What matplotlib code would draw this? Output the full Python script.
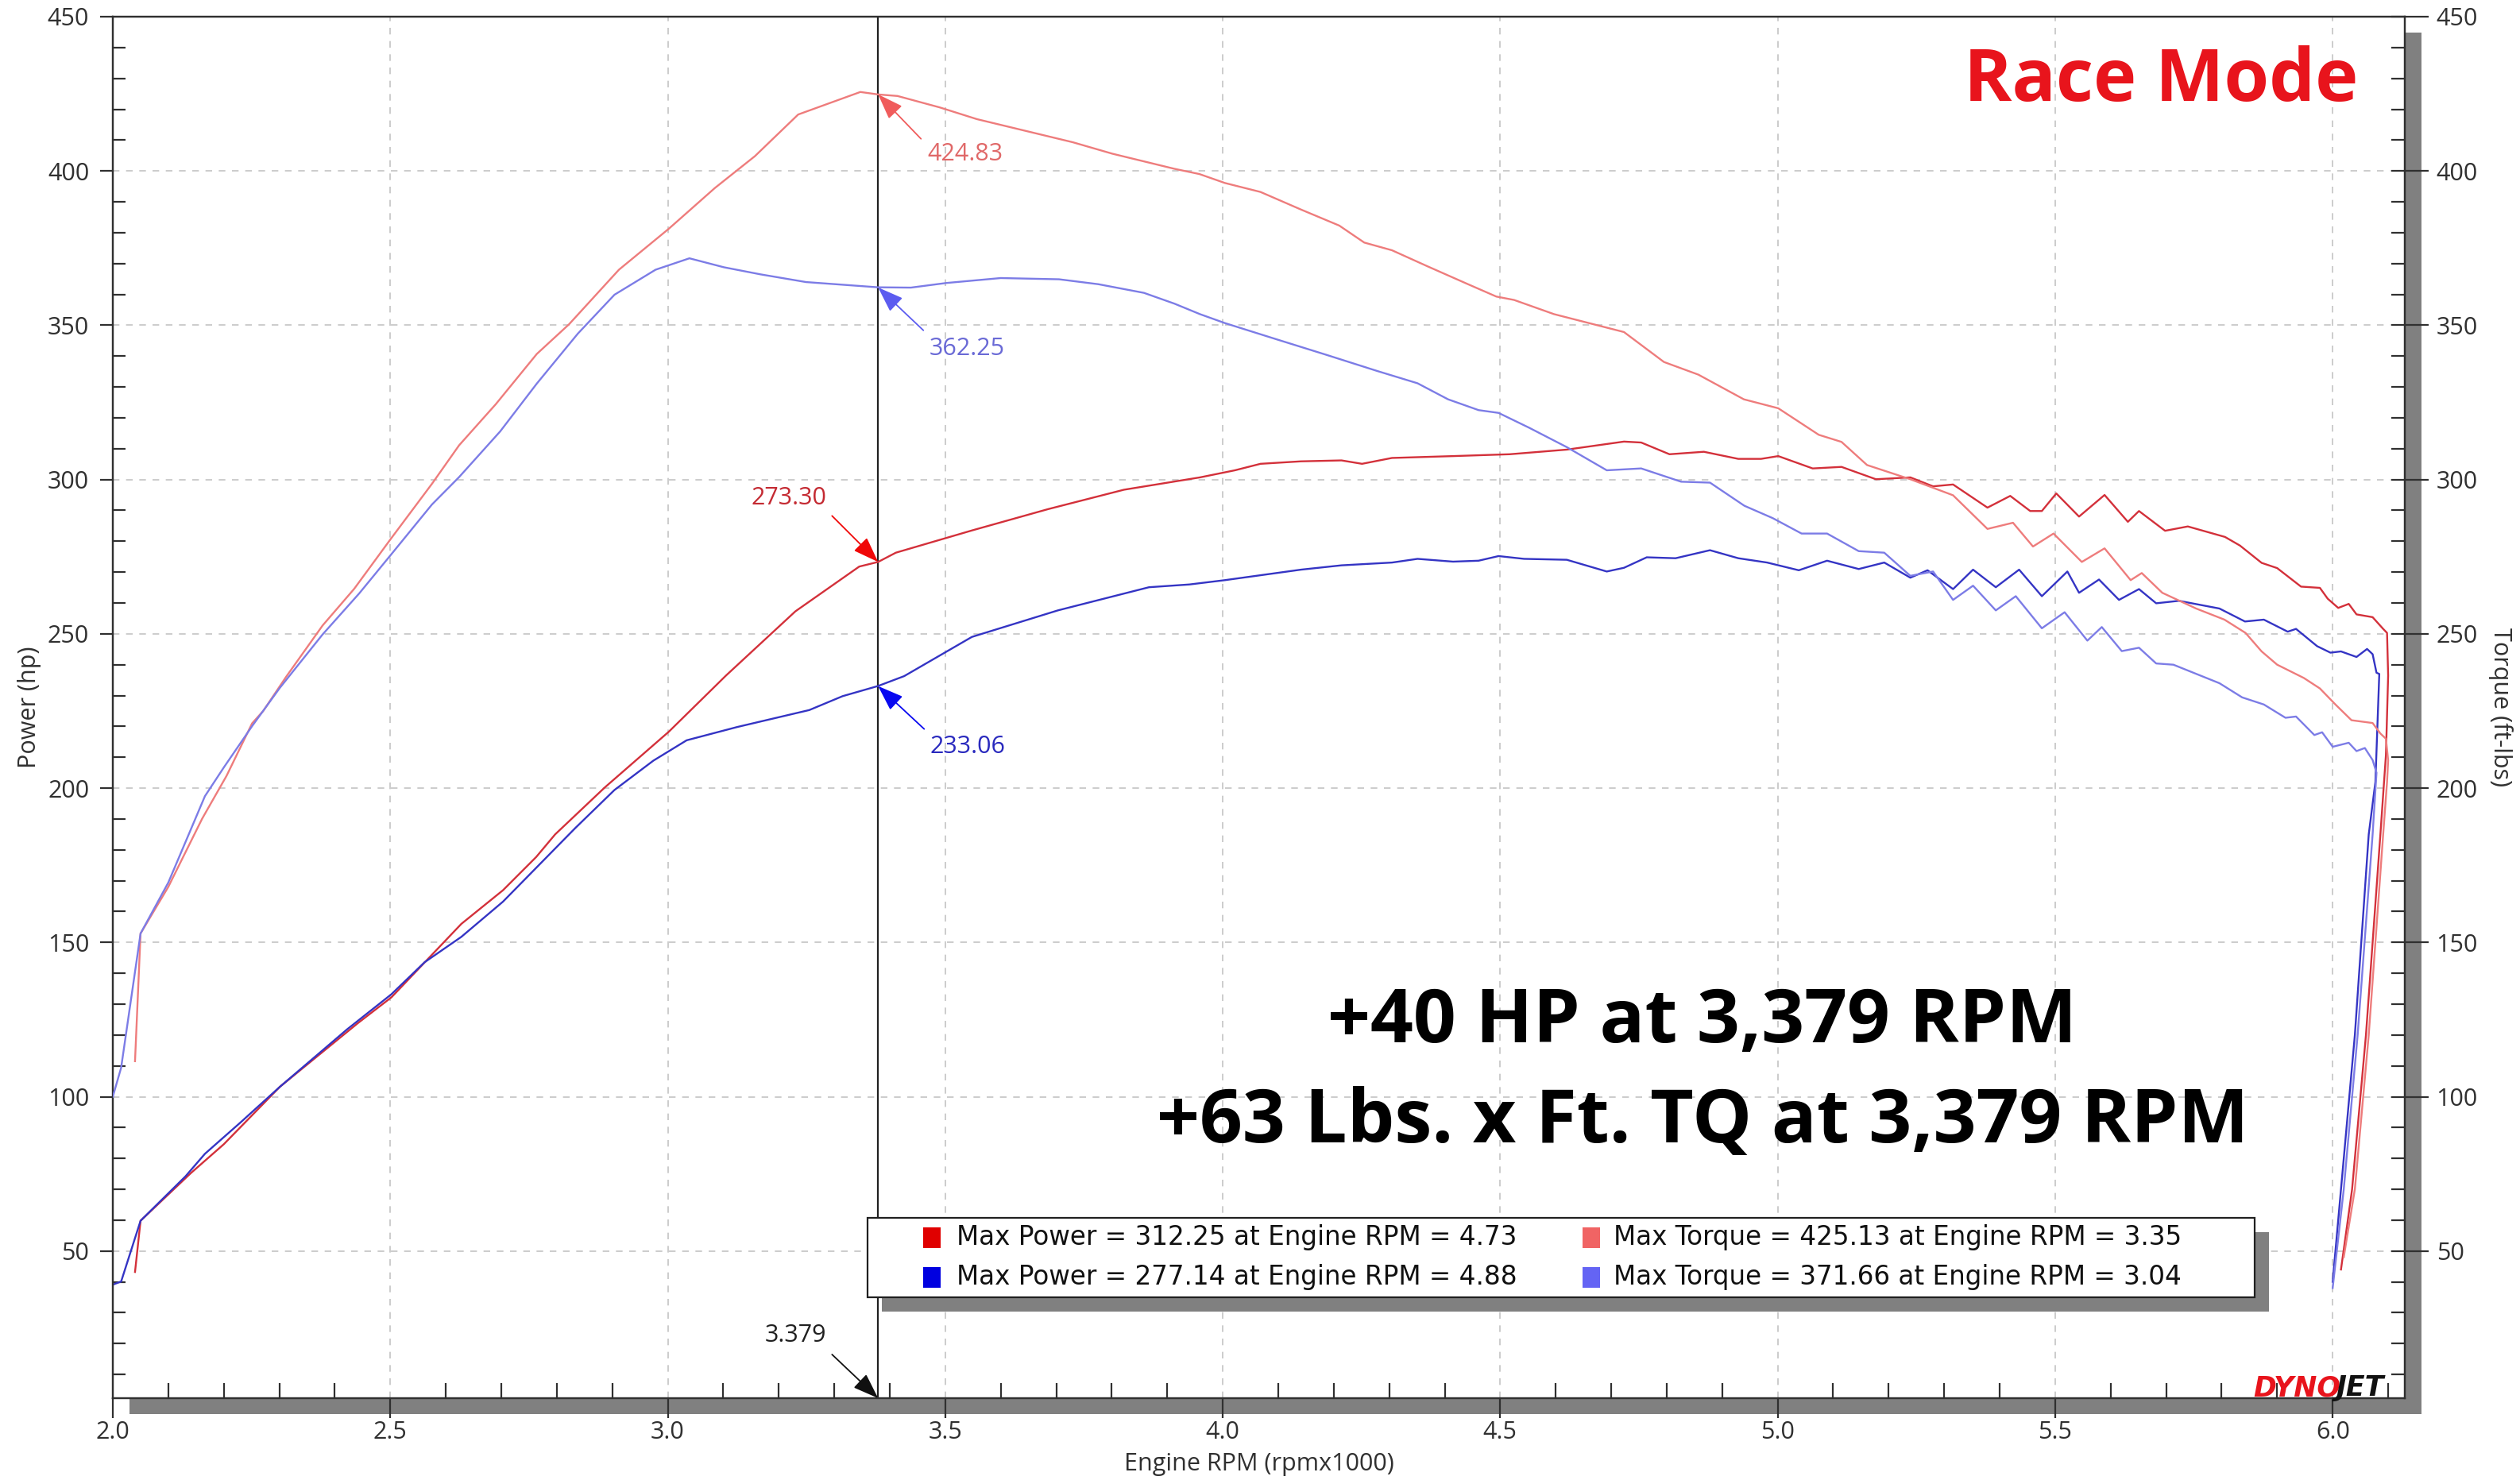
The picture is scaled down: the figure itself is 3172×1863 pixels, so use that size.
import matplotlib
matplotlib.use('Agg')
import matplotlib.pyplot as plt
from matplotlib.patches import Rectangle
from matplotlib.ticker import MultipleLocator, FormatStrFormatter
import numpy as np

plt.rcParams['font.family'] = ['Open Sans', 'DejaVu Sans']

# ---------------- data (read from the dyno sheet) ----------------
tuned_power_pts = [
    (2.040, 43.2), (2.050, 59.8), (2.141, 75.3), (2.200, 84.6), (2.301, 103.2),
    (2.442, 123.9), (2.502, 132.2), (2.628, 156.0), (2.703, 166.9), (2.763, 177.7),
    (2.797, 185.0), (2.887, 200.3), (3.002, 218.3), (3.105, 236.5), (3.230, 257.3),
    (3.345, 271.8), (3.379, 273.3), (3.411, 276.3), (3.548, 283.5), (3.685, 290.4),
    (3.822, 296.7), (3.959, 300.7), (4.022, 303.0), (4.068, 305.1), (4.141, 305.9),
    (4.214, 306.2), (4.251, 305.1), (4.305, 307.0), (4.415, 307.6), (4.517, 308.2),
    (4.620, 309.7), (4.723, 312.3), (4.754, 312.0), (4.805, 308.2), (4.867, 309.0),
    (4.929, 306.7), (4.970, 306.7), (5.001, 307.6), (5.063, 303.6), (5.115, 304.1),
    (5.177, 300.1), (5.239, 300.7), (5.280, 297.8), (5.316, 298.4), (5.378, 290.9),
    (5.419, 294.7), (5.455, 289.8), (5.476, 289.8), (5.502, 295.5), (5.543, 288.0),
    (5.589, 295.0), (5.631, 286.3), (5.651, 289.8), (5.698, 283.4), (5.739, 284.8),
    (5.806, 281.4), (5.833, 278.6), (5.872, 273.0), (5.900, 271.3), (5.943, 265.3),
    (5.977, 264.9), (5.991, 261.4), (6.010, 258.4), (6.029, 259.7), (6.043, 256.3),
    (6.072, 255.4), (6.091, 251.6), (6.098, 250.3), (6.100, 236.5), (6.096, 210.8),
    (6.086, 185.0), (6.060, 120.0), (6.035, 70.0), (6.015, 44.0),
]
tuned_torque_pts = [
    (2.040, 111.5), (2.050, 152.9), (2.100, 168.0), (2.161, 190.1), (2.205, 204.0),
    (2.251, 221.0), (2.271, 225.0), (2.312, 236.0), (2.378, 252.7), (2.435, 264.6),
    (2.501, 280.8), (2.575, 298.6), (2.624, 311.1), (2.690, 324.4), (2.764, 340.7),
    (2.822, 350.3), (2.912, 368.0), (3.002, 381.3), (3.085, 394.5), (3.157, 404.8),
    (3.235, 418.3), (3.347, 425.6), (3.379, 424.8), (3.414, 424.3), (3.490, 420.6),
    (3.557, 416.8), (3.730, 409.3), (3.801, 405.6), (3.913, 400.7), (3.958, 399.0),
    (4.004, 396.1), (4.068, 393.2), (4.141, 387.5), (4.210, 382.3), (4.255, 376.8),
    (4.305, 374.3), (4.369, 369.1), (4.442, 363.3), (4.493, 359.3), (4.525, 358.2),
    (4.597, 353.6), (4.660, 350.7), (4.723, 347.8), (4.795, 338.1), (4.857, 334.0),
    (4.939, 326.0), (5.001, 323.1), (5.074, 314.5), (5.115, 312.2), (5.161, 304.7),
    (5.239, 300.1), (5.316, 294.9), (5.378, 284.0), (5.424, 286.0), (5.460, 278.3),
    (5.497, 282.5), (5.548, 273.3), (5.589, 277.7), (5.636, 267.4), (5.656, 269.7),
    (5.693, 263.3), (5.754, 258.2), (5.805, 254.6), (5.843, 250.3), (5.872, 244.3),
    (5.900, 240.0), (5.948, 235.7), (5.977, 232.3), (6.005, 227.1), (6.034, 222.0),
    (6.072, 221.1), (6.086, 217.7), (6.096, 216.0), (6.100, 209.0), (6.098, 202.0),
    (6.091, 185.0), (6.065, 120.0), (6.040, 70.0), (6.020, 48.0),
]
stock_power_pts = [
    (2.000, 39.1), (2.015, 40.1), (2.050, 59.8), (2.131, 74.2), (2.166, 81.5),
    (2.231, 91.8), (2.301, 103.2), (2.422, 121.8), (2.502, 133.2), (2.562, 143.6),
    (2.628, 151.8), (2.703, 163.2), (2.833, 187.0), (2.904, 199.4), (2.974, 208.9),
    (3.034, 215.5), (3.125, 219.8), (3.255, 225.3), (3.315, 229.8), (3.379, 233.1),
    (3.426, 236.3), (3.548, 249.0), (3.703, 257.6), (3.867, 265.1), (3.940, 266.0),
    (4.004, 267.4), (4.141, 270.8), (4.214, 272.2), (4.305, 273.1), (4.351, 274.3),
    (4.415, 273.4), (4.461, 273.7), (4.497, 275.2), (4.543, 274.3), (4.620, 274.0),
    (4.692, 270.2), (4.723, 271.4), (4.764, 274.8), (4.816, 274.5), (4.878, 277.1),
    (4.929, 274.5), (4.981, 273.1), (5.038, 270.6), (5.089, 273.7), (5.146, 271.0),
    (5.192, 273.1), (5.239, 268.2), (5.270, 270.6), (5.316, 264.5), (5.352, 270.8),
    (5.393, 265.1), (5.435, 270.8), (5.476, 262.2), (5.522, 270.2), (5.543, 263.3),
    (5.579, 267.6), (5.615, 261.0), (5.651, 264.5), (5.682, 259.9), (5.723, 260.7),
    (5.796, 258.2), (5.842, 254.0), (5.876, 254.6), (5.919, 250.7), (5.934, 251.6),
    (5.972, 246.0), (5.996, 243.9), (6.015, 244.3), (6.043, 242.5), (6.062, 245.1),
    (6.072, 243.4), (6.079, 237.4), (6.084, 237.0), (6.077, 202.0), (6.065, 185.0),
    (6.040, 120.0), (6.015, 70.0), (6.000, 40.0),
]
stock_torque_pts = [
    (2.000, 100.0), (2.015, 109.4), (2.050, 152.9), (2.100, 169.4), (2.166, 197.4),
    (2.200, 206.7), (2.251, 220.1), (2.301, 232.5), (2.378, 249.8), (2.444, 263.1),
    (2.501, 275.6), (2.575, 291.9), (2.624, 300.8), (2.698, 315.6), (2.764, 331.1),
    (2.838, 347.3), (2.904, 359.9), (2.978, 368.0), (3.039, 371.7), (3.101, 368.8),
    (3.167, 366.5), (3.249, 364.0), (3.379, 362.3), (3.438, 362.2), (3.502, 363.7),
    (3.600, 365.3), (3.705, 364.9), (3.776, 363.3), (3.858, 360.5), (3.913, 357.0),
    (3.959, 353.6), (4.004, 350.7), (4.096, 345.5), (4.187, 340.4), (4.278, 335.2),
    (4.351, 331.2), (4.406, 326.0), (4.461, 322.5), (4.497, 321.6), (4.552, 316.8),
    (4.620, 310.5), (4.692, 303.0), (4.754, 303.6), (4.826, 299.3), (4.878, 299.0),
    (4.940, 291.5), (4.991, 287.5), (5.043, 282.5), (5.089, 282.5), (5.146, 276.8),
    (5.192, 276.3), (5.239, 268.8), (5.280, 270.2), (5.316, 261.0), (5.352, 265.6),
    (5.393, 257.6), (5.429, 262.2), (5.476, 251.8), (5.517, 257.0), (5.558, 247.8),
    (5.584, 252.2), (5.620, 244.4), (5.651, 245.5), (5.682, 240.4), (5.713, 240.0),
    (5.796, 234.0), (5.837, 229.4), (5.876, 227.1), (5.915, 222.8), (5.934, 223.2),
    (5.967, 217.2), (5.981, 218.1), (6.000, 213.4), (6.029, 214.7), (6.043, 212.0),
    (6.058, 213.0), (6.072, 209.1), (6.079, 205.0), (6.072, 185.0), (6.045, 120.0),
    (6.020, 70.0), (6.000, 38.0),
]

cursor_rpm = 3.379
cursor_values = {'tq_tuned': 424.83, 'tq_stock': 362.25, 'hp_tuned': 273.30, 'hp_stock': 233.06}

legend_labels = [
    'Max Power = 312.25 at Engine RPM = 4.73',
    'Max Torque = 425.13 at Engine RPM = 3.35',
    'Max Power = 277.14 at Engine RPM = 4.88',
    'Max Torque = 371.66 at Engine RPM = 3.04',
]
legend_colors = ['#E00000', '#F06464', '#0000E0', '#6464F4']

x_ticks = [2.0, 2.5, 3.0, 3.5, 4.0, 4.5, 5.0, 5.5, 6.0]
y_ticks = [50, 100, 150, 200, 250, 300, 350, 400, 450]

# ---------------- styles ----------------
C_HP_T = '#D3303A'
C_TQ_T = '#EE7C7C'
C_HP_S = '#3434C4'
C_TQ_S = '#7C7CE6'
C_AX = '#303030'

W, H, DPI = 3172, 1863, 100
fig = plt.figure(figsize=(W / DPI, H / DPI), dpi=DPI)
fig.patch.set_facecolor('white')

def fx(px):
    return px / W

def fy(py):
    return 1 - py / H

AX_L, AX_R, AX_T, AX_B = 142, 3027, 21, 1760
ax = fig.add_axes([fx(AX_L), fy(AX_B), (AX_R - AX_L) / W, (AX_B - AX_T) / H])
ax.set_zorder(1)

# frame shadow (right & bottom)
fig.patches.append(Rectangle((fx(AX_L + 21), fy(AX_B + 20)), (AX_R - AX_L) / W,
                             (AX_B - AX_T) / H, transform=fig.transFigure,
                             facecolor='#808080', edgecolor='none', zorder=0))

ax2 = ax.twinx()

for a in (ax, ax2):
    a.set_xlim(2.0, 6.13)
    a.set_ylim(2.3, 450)
    for s in a.spines.values():
        s.set_color(C_AX)
        s.set_linewidth(1.6)

ax.set_xticks(x_ticks)
ax.xaxis.set_major_formatter(FormatStrFormatter('%.1f'))
ax.xaxis.set_minor_locator(MultipleLocator(0.1))
ax.set_yticks(y_ticks)
ax.yaxis.set_minor_locator(MultipleLocator(10))
ax2.set_yticks(y_ticks)
ax2.yaxis.set_minor_locator(MultipleLocator(10))
ax2.yaxis.remove_overlapping_locs = False

ax.tick_params(axis='y', which='major', direction='out', length=11.5, width=1.6,
               pad=10, labelsize=22, color=C_AX, labelcolor=C_AX)
ax.tick_params(axis='y', which='minor', direction='in', length=11.5, width=1.6, color=C_AX)
ax.tick_params(axis='x', which='major', direction='out', length=18, width=1.6,
               pad=2, labelsize=22, color=C_AX, labelcolor=C_AX)
ax.tick_params(axis='x', which='minor', direction='in', length=14, width=1.6, color=C_AX)
ax2.tick_params(axis='y', which='major', direction='out', length=21.5, width=1.6,
                pad=7, labelsize=22, color=C_AX, labelcolor=C_AX)
ax2.tick_params(axis='y', which='minor', direction='in', length=12, width=1.6, color=C_AX)

ax.grid(True, which='major', color='#C4C4C4', linestyle=(0, (5, 5)), linewidth=1.2)
ax.set_axisbelow(True)

ax.set_xlabel('Engine RPM (rpmx1000)', fontsize=22, color=C_AX)
ax.set_ylabel('Power (hp)', fontsize=22, color=C_AX)
ax2.set_ylabel('Torque (ft-lbs)', fontsize=22, color=C_AX, rotation=270)
ax.xaxis.set_label_coords(0.5, (AX_B - 1843) / (AX_B - AX_T))
ax.yaxis.set_label_coords((37 - AX_L) / (AX_R - AX_L), 0.5)
ax2.yaxis.set_label_coords((3147 - AX_L) / (AX_R - AX_L), 0.5)
for lab in (ax.xaxis.label, ax.yaxis.label, ax2.yaxis.label):
    lab.set_verticalalignment('center')
    lab.set_horizontalalignment('center')

# cursor line
ax.axvline(cursor_rpm, color='#202020', linewidth=1.6, zorder=3)

def xy(pts):
    a = np.array(pts)
    return a[:, 0], a[:, 1]

LW = 1.7
r, v = xy(tuned_power_pts)
ax.plot(r, v, color=C_HP_T, linewidth=LW, zorder=4)
r, v = xy(stock_power_pts)
ax.plot(r, v, color=C_HP_S, linewidth=LW, zorder=4)
r, v = xy(tuned_torque_pts)
ax2.plot(r, v, color=C_TQ_T, linewidth=LW, zorder=4)
r, v = xy(stock_torque_pts)
ax2.plot(r, v, color=C_TQ_S, linewidth=LW, zorder=4)

ARROW = '-|>,head_length=0.5,head_width=0.18'

def mark(a, yval, label, tcolor, acolor, text_off, tail_off, ha):
    a.annotate('', xy=(cursor_rpm, yval), xytext=tail_off, textcoords='offset pixels',
               arrowprops=dict(arrowstyle=ARROW, color=acolor, lw=1.3, shrinkA=0,
                               shrinkB=0, mutation_scale=40), zorder=6)
    a.annotate(label, xy=(cursor_rpm, yval), xytext=text_off, textcoords='offset pixels',
               ha=ha, va='center', color=tcolor, fontsize=22, zorder=6)

mark(ax2, cursor_values['tq_tuned'], '%.2f' % cursor_values['tq_tuned'], '#E06868', '#F05C5C',
     (62, -75), (54, -56), 'left')
mark(ax2, cursor_values['tq_stock'], '%.2f' % cursor_values['tq_stock'], '#6A6AD6', '#5C5CF0',
     (64, -77), (57, -54), 'left')
mark(ax2, cursor_values['hp_tuned'], '%.2f' % cursor_values['hp_tuned'], '#C42A32', '#F00808',
     (-65, 80), (-58, 58), 'right')
mark(ax2, cursor_values['hp_stock'], '%.2f' % cursor_values['hp_stock'], '#2A2ABE', '#0808F0',
     (65, -76), (58, -54), 'left')
mark(ax2, 2.3, '%.3f' % cursor_rpm, '#202020', '#101010', (-65, 79), (-58, 55), 'right')

# headline texts
fig.text(fx(2968), fy(127), 'Race Mode', ha='right', va='baseline', fontsize=66,
         fontweight='bold', color='#E8141C', zorder=5)
fig.text(fx(2143), fy(1312), '+40 HP at 3,379 RPM', ha='center', va='baseline',
         fontsize=68, fontweight='bold', color='black', zorder=5)
fig.text(fx(2143), fy(1438), '+63 Lbs. x Ft. TQ at 3,379 RPM', ha='center', va='baseline',
         fontsize=68, fontweight='bold', color='black', zorder=5)

# logo
fig.text(fx(2836), fy(1757), 'DYNO', ha='left', va='baseline', fontsize=25,
         fontweight='heavy', style='italic', color='#E8141C', zorder=5,
         family=['DejaVu Sans'])
fig.text(fx(2941), fy(1757), 'JET', ha='left', va='baseline', fontsize=25,
         fontweight='heavy', style='italic', color='#111111', zorder=5,
         family=['DejaVu Sans'])

# legend box (manual, with drop shadow)
LEG_L, LEG_R, LEG_T, LEG_B = 1092, 2838, 1533, 1633
fig.patches.append(Rectangle((fx(LEG_L + 18), fy(LEG_B + 18)), (LEG_R - LEG_L) / W,
                             (LEG_B - LEG_T) / H, transform=fig.transFigure,
                             facecolor='#808080', edgecolor='none', zorder=7))
fig.patches.append(Rectangle((fx(LEG_L), fy(LEG_B)), (LEG_R - LEG_L) / W,
                             (LEG_B - LEG_T) / H, transform=fig.transFigure,
                             facecolor='white', edgecolor='#202020', linewidth=1.6, zorder=8))
col_sq = [1162, 1992]
col_tx = [1204, 2031]
row_y = [1558, 1608]
for i, (lab, colr) in enumerate(zip(legend_labels, legend_colors)):
    row, col = divmod(i, 2)
    fig.patches.append(Rectangle((fx(col_sq[col]), fy(row_y[row] + 13)), 22 / W, 26 / H,
                                 transform=fig.transFigure, facecolor=colr,
                                 edgecolor='none', zorder=9))
    fig.text(fx(col_tx[col]), fy(row_y[row]), lab, ha='left', va='center', fontsize=23.5,
             color='#111111', zorder=9, family=['DejaVu Sans'])

fig.savefig('out.png', dpi=DPI, facecolor='white')
